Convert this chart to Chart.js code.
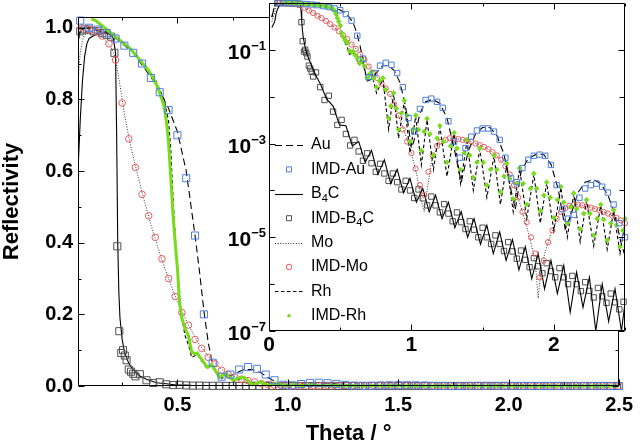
<!DOCTYPE html>
<html>
<head>
<meta charset="utf-8">
<script src="https://cdn.jsdelivr.net/npm/chart.js"></script>
<style>
html,body{margin:0;padding:0;background:#fff;}
#wrap{position:relative;width:640px;height:444px;overflow:hidden;}
#wrap canvas{position:absolute;left:0;top:0;}
</style>
</head>
<body>
<div id="wrap">
<canvas id="main" width="640" height="444"></canvas>
<canvas id="inset" width="640" height="444"></canvas>
</div>
<script>
// ---------------- DATA ----------------
// Simulated reflectivity curves (lines)
const auTheta = [0.02,0.04,0.05,0.06,0.08,0.12,0.20,0.30,0.40,0.46,0.50,0.54,0.56,0.58,0.60,0.62,0.64,0.66,0.68,0.70,0.72,0.76,0.80,0.84,0.88,0.92,0.96,1.00,1.02,1.06,1.10,1.15,1.20,1.25,1.30,1.35,1.40,1.45,1.50,1.55,1.60,1.65,1.70,1.73,1.77,1.82,1.88,1.93,1.98,2.03,2.08,2.12,2.17,2.22,2.28,2.33,2.38,2.43,2.47,2.50];
const auR = [0.5,0.88,0.96,0.99,1.0,0.995,0.982,0.93,0.845,0.775,0.71,0.6,0.51,0.42,0.32,0.21,0.12,0.058,0.03,0.022,0.024,0.034,0.046,0.046,0.036,0.02,0.006,8e-4,1.2e-3,4.5e-3,7.8e-3,8.8e-3,7.2e-3,3.5e-3,8e-4,1.5e-4,7e-4,1.6e-3,2.2e-3,2.2e-3,1.5e-3,6e-4,1e-4,4e-5,2.5e-4,4.8e-4,6e-4,5.8e-4,3.6e-4,1.1e-4,1.5e-5,3e-5,9e-5,1.5e-4,1.7e-4,1.4e-4,8e-5,3e-5,8e-6,4e-6];

const b4cTheta = [0.02,0.04,0.05,0.06,0.07,0.08,0.09,0.10,0.14,0.18,0.20,0.21,0.22,0.225,0.23,0.235,0.24,0.25,0.26,0.28,0.30,0.33,0.36,0.405,0.45,0.495,0.54,0.585,0.63,0.675,0.72,0.765,0.81,0.855,0.90,0.945,0.99,1.035,1.08,1.125,1.17,1.215,1.26,1.305,1.35,1.395,1.44,1.485,1.53,1.575,1.62,1.665,1.71,1.755,1.80,1.845,1.89,1.935,1.98,2.025,2.07,2.115,2.16,2.205,2.25,2.295,2.34,2.385,2.43,2.475,2.50];
const b4cR = [0.3,0.4,0.6,0.74,0.85,0.92,0.955,0.97,0.985,0.985,0.98,0.97,0.93,0.7,0.40,0.26,0.19,0.13,0.095,0.063,0.045,0.028,1.9e-2,8.9e-3,6.3e-3,2.5e-3,2.4e-3,8.9e-4,1.1e-3,4.0e-4,7.1e-4,2.2e-4,4.5e-4,1.4e-4,2.8e-4,8.9e-5,1.8e-4,5.6e-5,1.1e-4,3.5e-5,7.9e-5,2.5e-5,5.6e-5,1.6e-5,3.5e-5,1.0e-5,2.5e-5,7.1e-6,1.8e-5,4.5e-6,1.3e-5,3.2e-6,8.9e-6,2.0e-6,6.3e-6,1.3e-6,4.5e-6,7.9e-7,3.2e-6,6.3e-7,2.5e-6,2.5e-7,1.8e-6,3.2e-7,1.4e-6,1.0e-7,1.0e-6,1.6e-7,7.9e-7,1.0e-7,4.0e-7];

const moTheta = [0.02,0.04,0.05,0.06,0.07,0.08,0.12,0.16,0.20,0.22,0.24,0.26,0.28,0.30,0.34,0.38,0.42,0.46,0.50,0.55,0.60,0.65,0.70,0.75,0.80,0.85,0.90,0.95,1.00,1.04,1.07,1.09,1.11,1.14,1.18,1.24,1.30,1.36,1.42,1.48,1.54,1.60,1.66,1.72,1.78,1.83,1.87,1.89,1.91,1.94,1.98,2.04,2.10,2.16,2.22,2.30,2.38,2.44,2.50];
const moR = [0.4,0.62,0.85,0.93,0.965,0.98,0.99,0.975,0.945,0.915,0.84,0.76,0.695,0.64,0.54,0.45,0.37,0.30,0.235,0.17,0.115,0.075,0.046,0.028,0.018,0.011,4.8e-3,1.8e-3,6.3e-4,2.0e-4,6.0e-5,3.5e-5,1.0e-4,4.0e-4,8.5e-4,1.2e-3,1.3e-3,1.2e-3,1.1e-3,9.3e-4,7.6e-4,5.6e-4,3.3e-4,1.3e-4,3.5e-5,1.0e-5,3.0e-6,5.0e-7,2.0e-6,5.0e-6,1.2e-5,3.2e-5,4.6e-5,5.0e-5,4.6e-5,4.0e-5,3.2e-5,2.6e-5,2.0e-5];

const rhTheta = [0.02,0.04,0.05,0.06,0.08,0.12,0.20,0.30,0.40,0.44,0.46,0.47,0.48,0.49,0.50,0.51,0.52,0.535,0.55,0.565,0.59,0.635,0.655,0.69,0.72,0.755,0.80,0.84,0.875,0.91,0.95,0.99,1.03,1.07,1.11,1.155,1.20,1.25,1.30,1.345,1.39,1.435,1.48,1.53,1.58,1.625,1.67,1.715,1.76,1.81,1.86,1.905,1.95,2.00,2.05,2.095,2.14,2.185,2.23,2.28,2.33,2.375,2.42,2.465,2.50];
const rhR = [0.5,0.88,0.96,0.99,1.0,1.0,0.985,0.935,0.855,0.80,0.74,0.66,0.53,0.42,0.33,0.25,0.19,0.14,0.115,0.08,0.088,0.048,0.058,0.022,0.033,0.012,0.024,2.0e-3,1.15e-2,1.3e-3,8.0e-3,6.3e-4,3.8e-3,3.5e-4,3.2e-3,2.8e-4,2.3e-3,2.0e-4,1.6e-3,1.4e-4,1.1e-3,1.0e-4,7.6e-4,7.1e-5,5.4e-4,5.0e-5,3.6e-4,3.5e-5,2.9e-4,2.5e-5,2.2e-4,2.0e-5,1.45e-4,1.4e-5,1.15e-4,1.0e-5,8.5e-5,8.0e-6,6.0e-5,6.5e-6,4.8e-5,5.5e-6,3.6e-5,4.5e-6,2.0e-5];

// IMD calculated points (markers)
const imdAuTheta = [0.06,0.10,0.14,0.18,0.22,0.26,0.30,0.34,0.38,0.42,0.46,0.50,0.54,0.58,0.62,0.66,0.70,0.74,0.78,0.82,0.86,0.90,0.94,0.98,1.02,1.06,1.10,1.14,1.18,1.22,1.26,1.30,1.34,1.38,1.42,1.46,1.50,1.54,1.58,1.62,1.66,1.70,1.74,1.78,1.82,1.86,1.90,1.94,1.98,2.02,2.06,2.10,2.14,2.18,2.22,2.26,2.30,2.34,2.38,2.42,2.46,2.50];
const imdAuR = [1.02,1.0,0.995,0.985,0.97,0.95,0.93,0.90,0.86,0.82,0.77,0.70,0.58,0.42,0.20,0.065,0.026,0.032,0.046,0.053,0.048,0.032,0.016,3.5e-3,1.8e-3,5.5e-3,8.5e-3,9.1e-3,7.8e-3,5.8e-3,3.0e-3,1.1e-3,5.0e-4,8.0e-4,1.4e-3,1.9e-3,2.1e-3,2.1e-3,1.8e-3,1.2e-3,5.0e-4,1.8e-4,1.5e-4,3.0e-4,4.5e-4,5.5e-4,5.8e-4,5.5e-4,3.5e-4,1.3e-4,4.0e-5,2.5e-5,3.0e-5,7.0e-5,1.1e-4,1.3e-4,1.4e-4,1.2e-4,9.0e-5,5.0e-5,2.0e-5,1.0e-5];

const imdB4cTheta = [0.06,0.08,0.10,0.12,0.14,0.16,0.18,0.20,0.215,0.228,0.237,0.246,0.254,0.262,0.27,0.28,0.29,0.30,0.31,0.33,0.36,0.39,0.42,0.45,0.48,0.51,0.54,0.57,0.60,0.63,0.66,0.69,0.72,0.75,0.78,0.81,0.84,0.87,0.90,0.93,0.96,0.99,1.02,1.05,1.08,1.11,1.14,1.17,1.20,1.23,1.26,1.29,1.32,1.35,1.38,1.41,1.44,1.47,1.50,1.53,1.56,1.59,1.62,1.65,1.68,1.71,1.74,1.77,1.80,1.83,1.86,1.89,1.92,1.95,1.98,2.01,2.04,2.07,2.10,2.13,2.16,2.19,2.22,2.25,2.28,2.31,2.34,2.37,2.40,2.43,2.46,2.49];
const imdB4cR = [0.99,0.995,0.995,0.99,0.99,0.985,0.98,0.975,0.93,0.39,0.153,0.092,0.1,0.085,0.072,0.046,0.04,0.034,0.027,3.3e-2,1.6e-2,8.5e-3,1.05e-2,4.8e-3,2.5e-3,3.2e-3,1.6e-3,9.1e-4,1.2e-3,6.8e-4,4.3e-4,6.2e-4,3.8e-4,2.5e-4,3.7e-4,2.3e-4,1.6e-4,2.3e-4,1.5e-4,1.05e-4,1.6e-4,1.0e-4,6.9e-5,1.05e-4,6.8e-5,4.8e-5,7.4e-5,4.8e-5,3.4e-5,5.1e-5,3.2e-5,2.2e-5,3.4e-5,2.1e-5,1.5e-5,2.2e-5,1.45e-5,1.0e-5,1.6e-5,1.0e-5,7.2e-6,1.1e-5,7.2e-6,5.1e-6,7.9e-6,5.0e-6,3.5e-6,5.2e-6,3.3e-6,2.3e-6,3.6e-6,2.4e-6,1.7e-6,2.8e-6,1.9e-6,1.4e-6,2.2e-6,1.4e-6,1.0e-6,1.5e-6,1.0e-6,7.1e-7,1.1e-6,7.2e-7,5.2e-7,8.3e-7,5.5e-7,4.0e-7,6.3e-7,4.1e-7,2.9e-7,4.2e-7];

const imdMoTheta = [0.07,0.10,0.13,0.16,0.19,0.22,0.25,0.28,0.31,0.34,0.37,0.40,0.43,0.46,0.49,0.52,0.55,0.58,0.61,0.64,0.67,0.70,0.73,0.76,0.79,0.82,0.85,0.88,0.91,0.94,0.97,1.00,1.03,1.06,1.09,1.12,1.15,1.18,1.21,1.24,1.27,1.30,1.33,1.36,1.39,1.42,1.45,1.48,1.51,1.54,1.57,1.60,1.63,1.66,1.69,1.72,1.75,1.78,1.81,1.84,1.87,1.90,1.93,1.96,1.99,2.02,2.05,2.08,2.11,2.14,2.17,2.20,2.23,2.26,2.29,2.32,2.35,2.38,2.41,2.44,2.47,2.50];
const imdMoR = [1.0,0.995,0.99,0.977,0.955,0.91,0.79,0.69,0.61,0.535,0.475,0.415,0.355,0.30,0.25,0.205,0.17,0.13,0.105,0.08,0.062,0.044,0.032,0.025,0.019,0.015,0.0115,6.8e-3,4.0e-3,2.0e-3,1.1e-3,6.3e-4,2.9e-4,1.3e-4,8.0e-5,2.5e-4,5.6e-4,8.9e-4,1.1e-3,1.2e-3,1.3e-3,1.3e-3,1.25e-3,1.2e-3,1.15e-3,1.1e-3,1.0e-3,9.3e-4,8.5e-4,7.6e-4,6.6e-4,5.6e-4,4.5e-4,3.3e-4,2.2e-4,1.3e-4,7.1e-5,3.5e-5,2.1e-5,1.0e-5,4.5e-6,1.4e-6,3.2e-6,7.9e-6,1.4e-5,2.5e-5,3.5e-5,4.2e-5,4.7e-5,5.0e-5,5.0e-5,4.8e-5,4.5e-5,4.3e-5,4.0e-5,3.8e-5,3.5e-5,3.2e-5,2.9e-5,2.6e-5,2.3e-5,2.0e-5];

const imdRhTheta = [0.11,0.13,0.15,0.17,0.19,0.21,0.23,0.25,0.27,0.29,0.31,0.33,0.35,0.37,0.39,0.41,0.43,
  0.44,0.45,0.46,0.47,0.48,0.49,0.50,0.51,0.52,0.535,0.55,0.565,0.58,0.59,0.605,0.62,0.635,0.645,0.655,0.67,0.69,0.705,0.72,0.735,0.755,0.775,
  0.80,0.82,0.84,0.855,0.875,0.895,0.91,0.93,0.95,0.97,0.99,1.01,1.03,1.05,1.07,1.09,1.11,1.13,1.155,1.18,1.20,1.225,1.25,1.275,1.30,1.32,1.345,1.37,1.39,1.41,1.435,1.46,1.48,1.505,1.53,1.555,1.58,1.60,1.625,1.65,1.67,1.69,1.715,1.74,1.76,1.785,1.81,1.835,1.86,1.88,1.905,1.93,1.95,1.975,2.00,2.025,2.05,2.07,2.095,2.12,2.14,2.16,2.185,2.21,2.23,2.255,2.28,2.305,2.33,2.35,2.375,2.40,2.42,2.44,2.465,2.485,2.50];
const imdRhR = [1.025,1.02,1.01,1.0,0.99,0.98,0.97,0.96,0.95,0.94,0.925,0.91,0.895,0.88,0.86,0.835,0.80,
  0.78,0.74,0.68,0.58,0.48,0.40,0.33,0.23,0.19,0.16,0.14,0.095,0.09,0.092,0.078,0.066,0.052,0.055,0.06,0.045,0.025,0.03,0.034,0.025,0.016,0.022,
  2.5e-2,1.4e-2,3.5e-3,6.3e-3,1.2e-2,5.6e-3,2.0e-3,4.5e-3,8.3e-3,4.0e-3,1.1e-3,2.0e-3,4.0e-3,2.0e-3,7.1e-4,1.8e-3,3.4e-3,1.6e-3,5.6e-4,1.3e-3,2.4e-3,1.1e-3,4.0e-4,8.9e-4,1.7e-3,7.9e-4,2.8e-4,6.3e-4,1.2e-3,5.6e-4,1.9e-4,4.0e-4,7.9e-4,4.0e-4,1.3e-4,2.8e-4,5.6e-4,2.8e-4,9.3e-5,2.0e-4,3.8e-4,1.8e-4,6.6e-5,1.4e-4,3.0e-4,1.4e-4,5.0e-5,1.1e-4,2.3e-4,1.1e-4,3.7e-5,7.9e-5,1.5e-4,7.1e-5,2.6e-5,6.3e-5,1.2e-4,5.6e-5,2.0e-5,4.5e-5,8.7e-5,4.0e-5,1.5e-5,3.2e-5,6.3e-5,3.2e-5,1.1e-5,2.5e-5,5.0e-5,2.4e-5,8.7e-6,2.0e-5,3.8e-5,1.8e-5,6.3e-6,1.4e-5,2.5e-5];

// Axis ticks and labels
const mainXTicks = [0.5, 1.0, 1.5, 2.0, 2.5];
const mainXMinor = [0.25, 0.75, 1.25, 1.75, 2.25];
const mainYTicks = [0.0, 0.2, 0.4, 0.6, 0.8, 1.0];
const mainYMinor = [0.1, 0.3, 0.5, 0.7, 0.9];
const insetXTicks = [0, 1, 2];
const insetXMinor = [0.5, 1.5, 2.5];
const insetYMajor = [1e-1, 1e-3, 1e-5, 1e-7];
const insetYSup = ['\u22121', '\u22123', '\u22125', '\u22127'];
const insetYMinor = [1e-2, 1e-4, 1e-6];
const legendLabels = ['Au', 'IMD-Au', 'B\u2084C', 'IMD-B\u2084C', 'Mo', 'IMD-Mo', 'Rh', 'IMD-Rh'];

// ---------------- helpers ----------------
const pairs = [[auTheta,auR,'Au'],[b4cTheta,b4cR,'B4C'],[moTheta,moR,'Mo'],[rhTheta,rhR,'Rh'],
  [imdAuTheta,imdAuR,'IMD-Au'],[imdB4cTheta,imdB4cR,'IMD-B4C'],[imdMoTheta,imdMoR,'IMD-Mo'],[imdRhTheta,imdRhR,'IMD-Rh']];
pairs.forEach(p => { if (p[0].length !== p[1].length) throw new Error('length mismatch ' + p[2] + ' ' + p[0].length + ' vs ' + p[1].length); });

const FONT = '"Liberation Sans", Arial, Helvetica, sans-serif';
const BLUE = '#4d7fdc', RED = '#ee5c5c', GRAY = '#505050', GREEN = '#76dc1c';
function pts(xs, ys) { return xs.map((x, i) => ({ x: x, y: ys[i] })); }

const lineSty = {
  au:  { borderColor: '#000', borderWidth: 1.1, borderDash: [7, 4] },
  b4c: { borderColor: '#000', borderWidth: 1.1, borderDash: [] },
  mo:  { borderColor: '#333', borderWidth: 1, borderDash: [1, 1.6] },
  rh:  { borderColor: '#000', borderWidth: 1.1, borderDash: [3.5, 2.5] }
};
function lineDs(label, xs, ys, sty, order) {
  return Object.assign({ label: label, data: pts(xs, ys), showLine: true, pointRadius: 0, tension: 0, fill: false, order: order, clip: 0 }, sty);
}
function markDs(label, xs, ys, style, r, color, order, filled) {
  return { label: label, data: pts(xs, ys), showLine: false, pointStyle: style, pointRadius: r,
    pointBorderColor: color, pointBackgroundColor: filled ? color : 'rgba(0,0,0,0)', pointBorderWidth: filled ? 0 : 1,
    borderColor: color, backgroundColor: filled ? color : 'rgba(0,0,0,0)', order: order, clip: 6 };
}

function tickPlugin(id, xMaj, xMin, yMaj, yMin, fillWhite) {
  return {
    id: id,
    beforeDatasetsDraw(chart) {
      if (!fillWhite) return;
      const a = chart.chartArea, c = chart.ctx;
      c.save(); c.fillStyle = '#fff'; c.fillRect(a.left, a.top, a.right - a.left, a.bottom - a.top); c.restore();
    },
    afterDraw(chart) {
      const a = chart.chartArea, c = chart.ctx, xs = chart.scales.x, ys = chart.scales.y;
      const L = Math.round(a.left) + 0.5, R = Math.round(a.right) - 0.5, T = Math.round(a.top) + 0.5, B = Math.round(a.bottom) - 0.5;
      c.save();
      c.strokeStyle = '#000'; c.lineWidth = 1; c.setLineDash([]);
      c.beginPath(); c.rect(L, T, R - L, B - T); c.stroke();
      c.beginPath();
      const xt = (v, len) => { const px = Math.round(xs.getPixelForValue(v)) + 0.5; c.moveTo(px, B); c.lineTo(px, B - len); c.moveTo(px, T); c.lineTo(px, T + len); };
      const yt = (v, len) => { const py = Math.round(ys.getPixelForValue(v)) + 0.5; c.moveTo(L, py); c.lineTo(L + len, py); c.moveTo(R, py); c.lineTo(R - len, py); };
      xMaj.forEach(v => xt(v, 6)); xMin.forEach(v => xt(v, 3));
      yMaj.forEach(v => yt(v, 6)); yMin.forEach(v => yt(v, fillWhite ? 5 : 3));
      c.stroke();
      c.restore();
    }
  };
}

// ---------------- MAIN CHART ----------------
new Chart(document.getElementById('main'), {
  type: 'scatter',
  data: {
    datasets: [
      markDs('IMD-Au', imdAuTheta, imdAuR, 'rect', 5, BLUE, 0, false),
      Object.assign(markDs('IMD-Rh', imdRhTheta, imdRhR, 'circle', 0, GREEN, 1, true), { showLine: true, borderWidth: 3, borderColor: GREEN, clip: 2 }),
      markDs('IMD-Mo', imdMoTheta, imdMoR, 'circle', 3.3, RED, 2, false),
      markDs('IMD-B4C', imdB4cTheta, imdB4cR, 'rect', 5, GRAY, 3, false),
      lineDs('Au', auTheta, auR, lineSty.au, 4),
      lineDs('Rh', rhTheta, rhR, lineSty.rh, 5),
      lineDs('Mo', moTheta, moR, lineSty.mo, 6),
      lineDs('B4C', b4cTheta, b4cR, lineSty.b4c, 7)
    ]
  },
  options: {
    responsive: false, animation: false, devicePixelRatio: 1,
    layout: { padding: { left: 0, right: 16, top: 3, bottom: 0 }, autoPadding: false },
    plugins: { legend: { display: false }, tooltip: { enabled: false } },
    events: [],
    scales: {
      x: {
        type: 'linear', min: 0.05, max: 2.5,
        afterBuildTicks: s => { s.ticks = mainXTicks.map(v => ({ value: v })); },
        afterFit: s => { s.height = 58; },
        grid: { display: false, drawTicks: false }, border: { display: false },
        ticks: { padding: 7, color: '#000', autoSkip: false, maxRotation: 0, font: { family: FONT, size: 20, weight: 'bold' }, callback: v => Number(v).toFixed(1) },
        title: { display: true, text: 'Theta / \u00b0', color: '#000', font: { family: FONT, size: 22, weight: 'bold', lineHeight: 0.9 }, padding: { top: 0, bottom: 0 } }
      },
      y: {
        type: 'linear', min: 0, max: 1.03,
        afterBuildTicks: s => { s.ticks = mainYTicks.map(v => ({ value: v })); },
        afterFit: s => { s.width = 78; },
        grid: { display: false, drawTicks: false }, border: { display: false },
        ticks: { padding: 5, color: '#000', autoSkip: false, font: { family: FONT, size: 20, weight: 'bold' }, callback: v => Number(v).toFixed(1) },
        title: { display: true, text: 'Reflectivity', color: '#000', font: { family: FONT, size: 22, weight: 'bold', lineHeight: 1.0 }, padding: { top: 1, bottom: 0 } }
      }
    }
  },
  plugins: [tickPlugin('mainTicks', mainXTicks, mainXMinor, mainYTicks, mainYMinor, false)]
});

// ---------------- INSET CHART ----------------
const legendKeys = [
  { kind: 'line', sty: lineSty.au },
  { kind: 'mark', style: 'rect', r: 2.5, color: BLUE },
  { kind: 'line', sty: lineSty.b4c },
  { kind: 'mark', style: 'rect', r: 2.5, color: GRAY },
  { kind: 'line', sty: lineSty.mo },
  { kind: 'mark', style: 'circle', r: 2.8, color: RED },
  { kind: 'line', sty: lineSty.rh },
  { kind: 'mark', style: 'dot', r: 1.8, color: GREEN }
];
function drawLabel(c, text, x, y) {
  const parts = text.split('\u2084');
  c.textBaseline = 'middle'; c.textAlign = 'left'; c.fillStyle = '#000';
  let cx = x;
  parts.forEach((p, i) => {
    if (i > 0) { c.font = '11px ' + FONT; c.fillText('4', cx, y + 5); cx += c.measureText('4').width; }
    c.font = '16px ' + FONT; c.fillText(p, cx, y); cx += c.measureText(p).width;
  });
}
const legendPlugin = {
  id: 'insetLegend',
  afterDatasetsDraw(chart) {
    const c = chart.ctx;
    c.save();
    legendLabels.forEach((lab, i) => {
      const y = 145 + i * 24.4, k = legendKeys[i];
      if (k.kind === 'line') {
        c.strokeStyle = k.sty.borderColor; c.lineWidth = k.sty.borderWidth; c.setLineDash(k.sty.borderDash);
        c.beginPath(); c.moveTo(275, Math.round(y) + 0.5); c.lineTo(303, Math.round(y) + 0.5); c.stroke(); c.setLineDash([]);
      } else {
        c.lineWidth = 1; c.strokeStyle = k.color; c.beginPath();
        if (k.style === 'rect') { c.rect(289 - k.r, y - k.r, 2 * k.r, 2 * k.r); c.stroke(); }
        else if (k.style === 'circle') { c.arc(289, y, k.r, 0, Math.PI * 2); c.stroke(); }
        else { c.fillStyle = k.color; c.arc(289, y, k.r, 0, Math.PI * 2); c.fill(); }
      }
      drawLabel(c, lab, 311, y);
    });
    c.restore();
  },
  afterDraw(chart) {
    const c = chart.ctx, ys = chart.scales.y, right = chart.chartArea.left - 3;
    c.save(); c.fillStyle = '#000'; c.textAlign = 'left'; c.textBaseline = 'alphabetic';
    insetYMajor.forEach((v, i) => {
      const py = ys.getPixelForValue(v);
      c.font = 'bold 13px ' + FONT; const wS = c.measureText(insetYSup[i]).width;
      c.font = 'bold 21px ' + FONT; const wB = c.measureText('10').width;
      c.fillText('10', right - wS - wB, py + 9);
      c.font = 'bold 13px ' + FONT; c.fillText(insetYSup[i], right - wS, py);
    });
    c.restore();
  }
};

new Chart(document.getElementById('inset'), {
  type: 'scatter',
  data: {
    datasets: [
      markDs('IMD-Au', imdAuTheta, imdAuR, 'rect', 3.8, BLUE, 0, false),
      markDs('IMD-Rh', imdRhTheta, imdRhR, 'rectRot', 2.8, GREEN, 1, true),
      lineDs('Au', auTheta, auR, lineSty.au, 2),
      lineDs('Rh', rhTheta, rhR, lineSty.rh, 3),
      markDs('IMD-Mo', imdMoTheta, imdMoR, 'circle', 2.6, RED, 4, false),
      lineDs('Mo', moTheta, moR, lineSty.mo, 5),
      lineDs('B4C', b4cTheta, b4cR, lineSty.b4c, 6),
      markDs('IMD-B4C', imdB4cTheta, imdB4cR, 'rect', 3.8, GRAY, 7, false)
    ]
  },
  options: {
    responsive: false, animation: false, devicePixelRatio: 1,
    layout: { padding: { left: 0, right: 15, top: 3, bottom: 83 }, autoPadding: false },
    plugins: { legend: { display: false }, tooltip: { enabled: false } },
    events: [],
    scales: {
      x: {
        type: 'linear', min: 0, max: 2.5,
        afterBuildTicks: s => { s.ticks = insetXTicks.map(v => ({ value: v })); },
        afterFit: s => { s.height = 30; },
        grid: { display: false, drawTicks: false }, border: { display: false },
        ticks: { padding: 2, color: '#000', autoSkip: false, maxRotation: 0, font: { family: FONT, size: 21, weight: 'bold' }, callback: v => String(v) }
      },
      y: {
        type: 'logarithmic', min: 1e-7, max: 1,
        afterFit: s => { s.width = 269; },
        grid: { display: false, drawTicks: false }, border: { display: false },
        ticks: { display: false }
      }
    }
  },
  plugins: [tickPlugin('insetTicks', insetXTicks.concat([]), insetXMinor, insetYMajor, insetYMinor, true), legendPlugin]
});
</script>
</body>
</html>
